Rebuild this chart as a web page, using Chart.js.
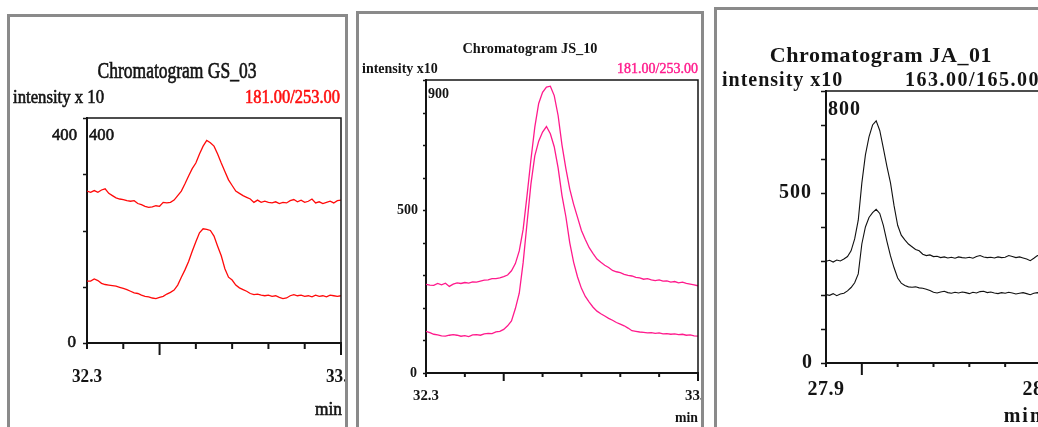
<!DOCTYPE html>
<html>
<head>
<meta charset="utf-8">
<script src="https://cdn.jsdelivr.net/npm/chart.js@4.4.1/dist/chart.umd.min.js"></script>
<style>
    html, body { margin: 0; padding: 0; background: #fff; }
    #page { position: relative; width: 1038px; height: 427px; overflow: hidden; background: #fff; }
    .panel { position: absolute; border: 3px solid #8a8a8a; box-sizing: border-box; overflow: hidden; background: #fff; }
    .panel canvas { position: absolute; }
</style>
</head>
<body>
<div id="page">
    <div class="panel" style="left:7px;top:14px;width:341px;height:430px">
        <canvas id="chartGS" width="1100" height="440" style="left:-10px;top:-17px"></canvas>
    </div>
    <div class="panel" style="left:356px;top:11px;width:348px;height:430px">
        <canvas id="chartJS" width="1100" height="440" style="left:-359px;top:-14px"></canvas>
    </div>
    <div class="panel" style="left:714px;top:7px;width:400px;height:430px">
        <canvas id="chartJA" width="1100" height="440" style="left:-717px;top:-10px"></canvas>
    </div>
</div>
<script>
// retention times (min) for GS_03 and JS_10
const timesA = [
    32.30, 32.31, 32.32, 32.33, 32.34, 32.35, 32.36, 32.37, 32.38, 32.39,
    32.40, 32.41, 32.42, 32.43, 32.44, 32.45, 32.46, 32.47, 32.48, 32.49,
    32.50, 32.51, 32.52, 32.53, 32.54, 32.55, 32.56, 32.57, 32.58, 32.59,
    32.60, 32.61, 32.62, 32.63, 32.64, 32.65, 32.66, 32.67, 32.68, 32.69,
    32.70, 32.71, 32.72, 32.73, 32.74, 32.75, 32.76, 32.77, 32.78, 32.79,
    32.80, 32.81, 32.82, 32.83, 32.84, 32.85, 32.86, 32.87, 32.88, 32.89,
    32.90, 32.91, 32.92, 32.93, 32.94, 32.95, 32.96, 32.97, 32.98, 32.99,
    33.00
];
// retention times (min) for JA_01
const timesB = [
    27.90, 27.91, 27.92, 27.93, 27.94, 27.95, 27.96, 27.97, 27.98, 27.99,
    28.00, 28.01, 28.02, 28.03, 28.04, 28.05, 28.06, 28.07, 28.08, 28.09,
    28.10, 28.11, 28.12, 28.13, 28.14, 28.15, 28.16, 28.17, 28.18, 28.19,
    28.20, 28.21, 28.22, 28.23, 28.24, 28.25, 28.26, 28.27, 28.28, 28.29,
    28.30, 28.31, 28.32, 28.33, 28.34, 28.35, 28.36, 28.37, 28.38, 28.39,
    28.40, 28.41, 28.42, 28.43, 28.44, 28.45, 28.46, 28.47, 28.48, 28.49,
    28.50
];

// intensity x10
const gsUpper = [
    270, 268, 271, 268, 272, 274, 266, 262, 258, 256,
    255, 253, 252, 253, 248, 246, 243, 241, 242, 244,
    243, 250, 249, 250, 254, 262, 270, 283, 297, 310,
    320, 336, 350, 360, 356, 350, 336, 320, 305, 290,
    280, 270, 266, 262, 259, 256, 250, 254, 250, 252,
    250, 249, 251, 248, 250, 249, 253, 255, 251, 254,
    250, 252, 256, 249, 251, 248, 250, 252, 249, 253,
    254
];
const gsLower = [
    110, 110, 114, 111, 106, 104, 103, 102, 101, 99,
    97, 95, 92, 89, 88, 85, 83, 82, 80, 79,
    81, 83, 87, 90, 94, 103, 117, 130, 145, 163,
    180, 196, 203, 202, 200, 190, 172, 155, 132, 117,
    112, 103, 98, 95, 92, 88, 86, 87, 85, 84,
    85, 83, 84, 81, 79, 80, 84, 86, 84, 85,
    83, 84, 82, 85, 83, 84, 82, 85, 84, 83,
    84
];
const jsUpper = [
    272, 270, 269, 275, 271, 276, 266, 273, 277, 275,
    278, 276, 280, 279, 282, 285, 286, 290, 290, 292,
    296, 301, 314, 336, 375, 441, 545, 655, 755, 828,
    862, 878, 881, 852, 791, 700, 628, 565, 518, 478,
    438, 410, 385, 367, 350, 340, 331, 324, 315, 311,
    308, 303, 300, 298, 294, 292, 288, 290, 286, 284,
    286, 282, 283, 279, 281, 277, 279, 275, 273, 271,
    268
];
const jsLower = [
    128, 124, 119, 117, 114, 113, 116, 118, 116, 113,
    115, 112, 117, 118, 116, 120, 122, 121, 126, 128,
    134, 145, 160, 198, 245, 339, 460, 580, 667, 712,
    740, 757, 735, 695, 630, 545, 480, 400, 340, 295,
    260, 235, 218, 202, 190, 182, 175, 168, 162, 155,
    150, 145, 138, 130, 128, 126, 125, 123, 124, 122,
    123, 120, 121, 119, 120, 118, 119, 116, 117, 114,
    113
];
const jaUpper = [
    299, 302, 297, 303, 300, 306, 313, 330, 365, 420,
    529, 612, 665, 700, 712, 684, 632, 578, 530, 462,
    405, 376, 362, 350, 342, 334, 330, 320, 316, 318,
    313, 314, 310, 312, 309, 311, 308, 312, 310, 309,
    311, 308, 313, 316, 312, 310, 311, 309, 312, 310,
    311, 316, 313, 310, 312, 309, 306, 301, 308, 316,
    314
];
const jaLower = [
    201, 199, 204, 198, 203, 205, 212, 222, 236, 262,
    350, 400, 428, 442, 452, 440, 405, 358, 315, 280,
    250, 235, 228, 224, 223, 224, 221, 220, 217, 213,
    208, 206, 209, 211, 207, 205, 208, 206, 209, 207,
    204, 208, 206, 210, 211, 207, 209, 206, 204, 207,
    205, 208, 206, 203, 205, 207, 204, 201, 205, 207,
    206
];

// axis ticks
const gsXTicks = [32.3, 32.4, 32.5, 32.6, 32.7, 32.8, 32.9, 33.0];
const gsXMajor = [32.5, 33.0];
const gsYTicks = [0, 100, 200, 300, 400];
const jsYTicks = [0, 100, 200, 300, 400, 500, 600, 700, 800, 900];
const jaXTicks = [27.9, 28.0, 28.1, 28.2, 28.3, 28.4, 28.5];
const jaXMajor = [28.0, 28.5];
const jaYTicks = [0, 100, 200, 300, 400, 500, 600, 700, 800];

const SERIF = '"Liberation Serif", "Times New Roman", serif';

function toPoints(times, values) {
    return values.map((v, i) => ({x: times[i], y: v}));
}

function drawText(ctx, chart, t) {
    ctx.font = t.font + ' ' + SERIF;
    ctx.fillStyle = t.color || '#141414';
    ctx.strokeStyle = t.color || '#141414';
    ctx.textAlign = t.align || 'left';
    ctx.textBaseline = t.baseline || 'alphabetic';
    ctx.letterSpacing = t.spacing || '0px';
    const x = t.xValue !== undefined ? chart.scales.x.getPixelForValue(t.xValue) : t.x;
    const y = t.yValue !== undefined ? chart.scales.y.getPixelForValue(t.yValue) : t.y;
    const w = t.maxWidth || undefined;
    if (w) ctx.fillText(t.text, x, y, w); else ctx.fillText(t.text, x, y);
    // the scanned GS_03 labels look heavier than a plain regular face
    if (t.heavy) {
        ctx.lineWidth = t.heavy;
        if (w) ctx.strokeText(t.text, x, y, w); else ctx.strokeText(t.text, x, y);
    }
}

// frame, tick marks and all the labels of one chromatogram panel
function decorPlugin(opts) {
    return {
        id: 'decor',
        afterDraw(chart) {
            const ctx = chart.ctx;
            const area = chart.chartArea;
            const xs = chart.scales.x, ys = chart.scales.y;
            ctx.save();
            ctx.strokeStyle = '#141414';
            ctx.lineWidth = opts.frameWidth;
            ctx.beginPath();
            ctx.moveTo(area.left, area.top);
            ctx.lineTo(area.right, area.top);
            ctx.lineTo(area.right, area.bottom);
            ctx.stroke();

            ctx.lineWidth = 1.5;
            opts.yTicks.forEach(v => {
                const py = Math.round(ys.getPixelForValue(v)) + 0.5;
                ctx.beginPath();
                ctx.moveTo(area.left, py);
                ctx.lineTo(area.left - opts.yTickLen, py);
                ctx.stroke();
            });
            ctx.lineWidth = 2;
            opts.xTicks.forEach(v => {
                const px = xs.getPixelForValue(v);
                const len = opts.xMajor.includes(v) ? opts.majorLen : opts.minorLen;
                ctx.beginPath();
                ctx.moveTo(px, area.bottom);
                ctx.lineTo(px, area.bottom + len);
                ctx.stroke();
            });

            opts.texts.forEach(t => drawText(ctx, chart, t));
            ctx.restore();
        }
    };
}

function makeChart(canvasId, cfg) {
    const ctx = document.getElementById(canvasId).getContext('2d');
    return new Chart(ctx, {
        type: 'line',
        data: {
            datasets: cfg.series.map(s => ({
                data: toPoints(cfg.times, s),
                borderColor: cfg.color,
                borderWidth: cfg.lineWidth,
                pointRadius: 0,
                tension: 0,
                fill: false
            }))
        },
        options: {
            responsive: false,
            animation: false,
            devicePixelRatio: 1,
            layout: {padding: cfg.padding},
            plugins: {legend: {display: false}, tooltip: {enabled: false}},
            scales: {
                x: {
                    type: 'linear', min: cfg.xMin, max: cfg.xMax,
                    ticks: {display: false},
                    grid: {display: false, drawTicks: false},
                    border: {display: true, color: '#141414', width: 2}
                },
                y: {
                    type: 'linear', min: 0, max: cfg.yMax,
                    ticks: {display: false},
                    grid: {display: false, drawTicks: false},
                    border: {display: true, color: '#141414', width: 2}
                }
            }
        },
        plugins: [decorPlugin(cfg.decor)]
    });
}

// canvases are 1100x440 and aligned with the page, so padding = plot box on the page
makeChart('chartGS', {
    times: timesA, series: [gsUpper, gsLower], color: '#ff0a0a', lineWidth: 1.3,
    xMin: 32.3, xMax: 33.0, yMax: 400,
    padding: {left: 87, top: 118, right: 759, bottom: 97},
    decor: {
        frameWidth: 1.5, yTicks: gsYTicks, yTickLen: 4,
        xTicks: gsXTicks, xMajor: gsXMajor, minorLen: 6, majorLen: 12,
        texts: [
            {text: 'Chromatogram GS_03', x: 177, y: 78, font: '24px', align: 'center', maxWidth: 159, heavy: 0.7},
            {text: 'intensity x 10', x: 13, y: 103, font: '18px', maxWidth: 91, heavy: 0.6},
            {text: '181.00/253.00', x: 340, y: 103, font: '18px', align: 'right', color: '#ff1010', maxWidth: 95, heavy: 0.6},
            {text: '400', x: 77, y: 140, font: '17px', align: 'right', maxWidth: 25, heavy: 0.6},
            {text: '400', x: 89, y: 140, font: '17px', maxWidth: 25, heavy: 0.6},
            {text: '0', yValue: 0, x: 76, font: '17px', align: 'right', baseline: 'middle', heavy: 0.6},
            {text: '32.3', xValue: 32.3, y: 382, font: 'bold 18px', align: 'center', maxWidth: 30},
            {text: '33.0', xValue: 33.0, y: 382, font: 'bold 18px', align: 'center', maxWidth: 30},
            {text: 'min', x: 342, y: 415, font: '18px', align: 'right', maxWidth: 27, heavy: 0.6}
        ]
    }
});

makeChart('chartJS', {
    times: timesA, series: [jsUpper, jsLower], color: '#ff1a8c', lineWidth: 1.3,
    xMin: 32.3, xMax: 33.0, yMax: 900,
    padding: {left: 426, top: 80, right: 402, bottom: 67},
    decor: {
        frameWidth: 1.5, yTicks: jsYTicks, yTickLen: 3,
        xTicks: gsXTicks, xMajor: gsXMajor, minorLen: 4, majorLen: 8,
        texts: [
            {text: 'Chromatogram JS_10', x: 530, y: 53, font: 'bold 15px', align: 'center', maxWidth: 135},
            {text: 'intensity x10', x: 362, y: 73, font: 'bold 14px', maxWidth: 76},
            {text: '181.00/253.00', x: 698, y: 73, font: '14px', align: 'right', color: '#ff1a8c', maxWidth: 83, heavy: 0.4},
            {text: '900', x: 428, y: 98, font: 'bold 14px', maxWidth: 22},
            {text: '500', yValue: 500, x: 418, font: 'bold 14px', align: 'right', baseline: 'middle'},
            {text: '0', yValue: 0, x: 417, font: 'bold 14px', align: 'right', baseline: 'middle'},
            {text: '32.3', xValue: 32.3, y: 400, font: 'bold 15px', align: 'center', maxWidth: 26},
            {text: '33.0', xValue: 33.0, y: 400, font: 'bold 15px', align: 'center', maxWidth: 26},
            {text: 'min', x: 698, y: 422, font: 'bold 14px', align: 'right', maxWidth: 23}
        ]
    }
});

makeChart('chartJA', {
    times: timesB, series: [jaUpper, jaLower], color: '#111111', lineWidth: 1.1,
    xMin: 27.9, xMax: 28.5, yMax: 800,
    padding: {left: 826, top: 91, right: 59, bottom: 77},
    decor: {
        frameWidth: 1.5, yTicks: jaYTicks, yTickLen: 5,
        xTicks: jaXTicks, xMajor: jaXMajor, minorLen: 4, majorLen: 12,
        texts: [
            {text: 'Chromatogram JA_01', x: 881, y: 62, font: 'bold 22px', align: 'center', spacing: '0.6px'},
            {text: 'intensity x10', x: 722, y: 86, font: 'bold 20px', spacing: '1px'},
            {text: '163.00/165.00', x: 905, y: 86, font: 'bold 20px', spacing: '1.5px'},
            {text: '800', x: 828, y: 115, font: 'bold 20px', spacing: '1px'},
            {text: '500', yValue: 500, x: 812, font: 'bold 20px', align: 'right', baseline: 'middle', spacing: '1px'},
            {text: '0', yValue: 0, x: 812, font: 'bold 20px', align: 'right', baseline: 'middle'},
            {text: '27.9', xValue: 27.9, y: 395, font: 'bold 20px', align: 'center', spacing: '0.5px'},
            {text: '28.5', xValue: 28.5, y: 395, font: 'bold 20px', align: 'center', spacing: '0.5px'},
            {text: 'min', x: 1043, y: 422, font: 'bold 20px', align: 'right', spacing: '2px'}
        ]
    }
});
</script>
</body>
</html>
